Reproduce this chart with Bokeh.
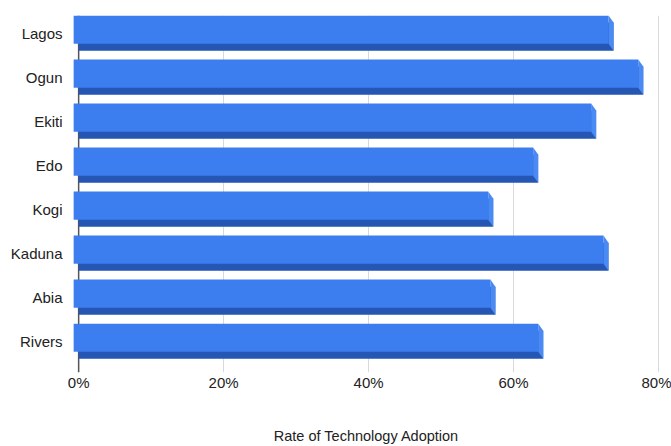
from bokeh.plotting import figure
from bokeh.models import Range1d, FixedTicker, Span, CustomJSTickFormatter
from bokeh.embed import file_html
from bokeh.resources import INLINE

states = ["Lagos", "Ogun", "Ekiti", "Edo", "Kogi", "Kaduna", "Abia", "Rivers"]
adoption = [73.8, 77.9, 71.4, 63.4, 57.2, 73.1, 57.5, 64.1]
x_ticks = [0, 20, 40, 60, 80]

FONT = "Liberation Sans"
dx = 0.69   # depth offset in % units
dy = 0.08   # half depth offset in category units
h = 0.64    # face height

pos = list(range(len(states)))
front_y = [p - dy for p in pos]
rear_y = [p + dy for p in pos]
front_right = [v - dx for v in adoption]

p = figure(output_backend="svg", toolbar_location=None,
           frame_width=596, frame_height=357,
           x_range=Range1d(-1.4, 80.83), y_range=Range1d(7.71, -0.4),
           min_border_left=68, min_border_right=7, min_border_top=15, min_border_bottom=0)

p.add_layout(Span(location=0, dimension="height", line_color="#555555", line_width=1.5,
                  level="underlay"))

# rear (bottom face) in dark blue
p.hbar(y=rear_y, left=0, right=adoption, height=h, fill_color="#2656b4", line_color=None)
# side face
xs = [[fr, v, v, fr] for fr, v in zip(front_right, adoption)]
ys = [[fy - h / 2, ry - h / 2, ry + h / 2, fy + h / 2] for fy, ry in zip(front_y, rear_y)]
p.patches(xs, ys, fill_color="#4a8af4", line_color=None)
# front face
p.hbar(y=front_y, left=-dx, right=front_right, height=h, fill_color="#3c7ef0", line_color=None)

p.xaxis.ticker = FixedTicker(ticks=x_ticks)
p.xaxis.formatter = CustomJSTickFormatter(code="return tick + '%';")
p.yaxis.ticker = FixedTicker(ticks=pos)
p.yaxis.major_label_overrides = {i: s for i, s in enumerate(states)}

p.xgrid.ticker = FixedTicker(ticks=x_ticks[1:])
p.xgrid.grid_line_color = "#d9d9d9"
p.ygrid.grid_line_color = None
p.outline_line_color = None

for ax in (p.xaxis[0], p.yaxis[0]):
    ax.axis_line_color = None
    ax.major_tick_line_color = None
    ax.minor_tick_line_color = None
    ax.major_tick_out = 0
    ax.major_tick_in = 0
    ax.minor_tick_out = 0
    ax.major_label_text_font = FONT
    ax.major_label_text_font_size = "15px"
    ax.major_label_text_color = "#222222"

p.yaxis.major_label_standoff = 6
p.xaxis.major_label_standoff = 1
p.xaxis.axis_label = "Rate of Technology Adoption"
p.xaxis.axis_label_text_font = FONT
p.xaxis.axis_label_text_font_size = "14.5px"
p.xaxis.axis_label_text_font_style = "normal"
p.xaxis.axis_label_text_color = "#222222"
p.xaxis.axis_label_standoff = 34

open("out.html", "w").write(file_html(p, INLINE))
